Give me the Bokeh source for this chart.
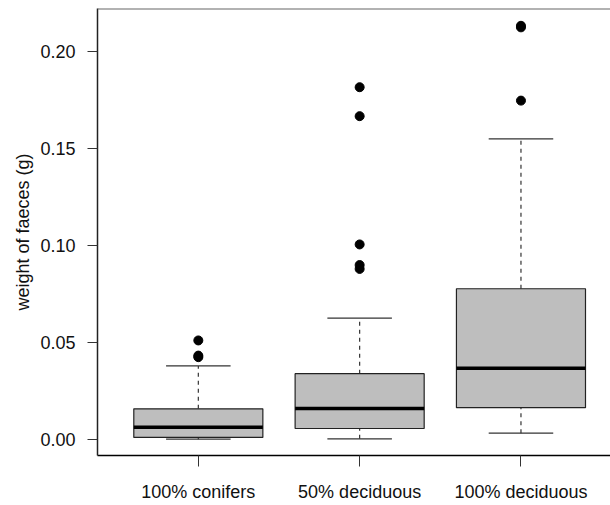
from bokeh.plotting import figure
from bokeh.models import ColumnDataSource, FixedTicker, Range1d, Span
from bokeh.embed import file_html
from bokeh.resources import INLINE

# ---- data ----
categories = ["100% conifers", "50% deciduous", "100% deciduous"]
lower_whisker = [0.0003, 0.0005, 0.0034]
q1 = [0.0012, 0.0058, 0.0165]
median = [0.0065, 0.0161, 0.0368]
q3 = [0.0159, 0.0340, 0.0777]
upper_whisker = [0.0380, 0.0626, 0.1548]
outliers_conifers = [0.0425, 0.0433, 0.0511]
outliers_50dec = [0.0879, 0.0899, 0.1005, 0.1665, 0.1814]
outliers_100dec = [0.1745, 0.2122, 0.2130]
y_ticks = [0.00, 0.05, 0.10, 0.15, 0.20]
y_tick_labels = ["0.00", "0.05", "0.10", "0.15", "0.20"]
y_label = "weight of faeces (g)"

FONT = "Liberation Sans"
BOX_W = 0.8
Y_START, Y_END = -0.0081, 0.2219

xs = [i + 1 for i in range(len(categories))]
box_src = ColumnDataSource(dict(
    x=xs,
    left=[x - BOX_W / 2 for x in xs],
    right=[x + BOX_W / 2 for x in xs],
    cap_l=[x - BOX_W / 4 for x in xs],
    cap_r=[x + BOX_W / 4 for x in xs],
    lw=lower_whisker, q1=q1, med=median, q3=q3, uw=upper_whisker,
))
out_x, out_y = [], []
for x, vals in zip(xs, [outliers_conifers, outliers_50dec, outliers_100dec]):
    out_x += [x] * len(vals)
    out_y += vals
out_src = ColumnDataSource(dict(x=out_x, y=out_y))

p = figure(width=610, height=505, output_backend="svg", toolbar_location=None,
           x_range=Range1d(0.375, 3.555), y_range=Range1d(Y_START, Y_END),
           min_border_left=97, min_border_right=0, min_border_top=8,
           min_border_bottom=50)
p.outline_line_color = None
p.grid.visible = False
p.background_fill_color = "white"
p.border_fill_color = "white"

# whiskers
p.segment(x0="x", y0="q3", x1="x", y1="uw", source=box_src, line_color="#333333",
          line_width=1.2, line_dash="4 4")
p.segment(x0="x", y0="lw", x1="x", y1="q1", source=box_src, line_color="#333333",
          line_width=1.2, line_dash="4 4")
p.segment(x0="cap_l", y0="uw", x1="cap_r", y1="uw", source=box_src,
          line_color="#333333", line_width=1.2)
p.segment(x0="cap_l", y0="lw", x1="cap_r", y1="lw", source=box_src,
          line_color="#333333", line_width=1.2)
# boxes
p.quad(left="left", right="right", bottom="q1", top="q3", source=box_src,
       fill_color="#bebebe", line_color="#222222", line_width=1.2)
p.segment(x0="left", y0="med", x1="right", y1="med", source=box_src,
          line_color="black", line_width=3.5)
# outliers
p.scatter(x="x", y="y", source=out_src, size=9, marker="circle",
          fill_color="black", line_color="black")

# top frame line
p.add_layout(Span(location=Y_END, dimension="width", line_color="#666666", line_width=2))

# axes
xa = p.xaxis[0]
xa.ticker = FixedTicker(ticks=xs)
xa.major_label_overrides = {x: c for x, c in zip(xs, categories)}
xa.minor_tick_line_color = None
xa.major_tick_in = 0
xa.major_tick_out = 11
xa.major_tick_line_color = "#333333"
xa.axis_line_color = "black"
xa.axis_line_width = 1.5
xa.major_label_standoff = 15
xa.major_label_text_font = FONT
xa.major_label_text_font_size = "18px"
xa.major_label_text_color = "#111111"

ya = p.yaxis[0]
ya.ticker = FixedTicker(ticks=y_ticks)
ya.major_label_overrides = {t: l for t, l in zip(y_ticks, y_tick_labels)}
ya.minor_tick_line_color = None
ya.major_tick_in = 0
ya.major_tick_out = 10
ya.major_tick_line_color = "#333333"
ya.axis_line_color = "#222222"
ya.axis_line_width = 1.5
ya.major_label_standoff = 12
ya.major_label_text_font = FONT
ya.major_label_text_font_size = "18px"
ya.major_label_text_color = "#111111"
ya.axis_label = y_label
ya.axis_label_text_font = FONT
ya.axis_label_text_font_size = "18px"
ya.axis_label_text_font_style = "normal"
ya.axis_label_text_color = "#111111"
ya.axis_label_standoff = 4

open("out.html", "w").write(file_html(p, INLINE))
